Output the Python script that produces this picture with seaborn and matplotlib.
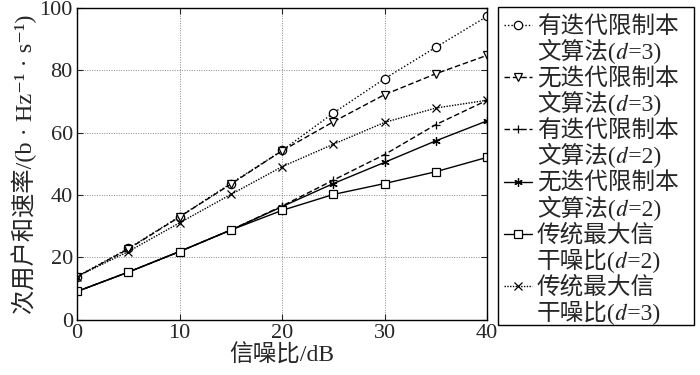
import numpy as np
import pandas as pd
import seaborn as sns
import matplotlib.pyplot as plt
from matplotlib.lines import Line2D
from matplotlib.patches import Rectangle

snr = [0, 5, 10, 15, 20, 25, 30, 35, 40]

iter_d3 = [13.9, 22.9, 33.1, 43.7, 54.3, 66.3, 77.3, 87.4, 97.3]
noiter_d3 = [13.8, 22.7, 33.0, 43.5, 54.2, 63.5, 72.2, 78.9, 84.8]
iter_d2 = [9.1, 15.3, 21.9, 28.8, 36.5, 44.8, 53.0, 62.6, 70.4]
noiter_d2 = [9.1, 15.3, 21.9, 28.8, 36.3, 43.7, 50.5, 57.4, 63.8]
maxsinr_d2 = [9.1, 15.3, 21.9, 28.8, 35.1, 40.2, 43.7, 47.5, 52.1]
maxsinr_d3 = [13.9, 21.9, 31.1, 40.2, 49.1, 56.3, 63.3, 67.9, 70.4]

# italic d via the math-italic code point (falls back to STIXGeneral)
labels = [('有迭代限制本', '文算法(𝑑=3)'), ('无迭代限制本', '文算法(𝑑=3)'),
          ('有迭代限制本', '文算法(𝑑=2)'), ('无迭代限制本', '文算法(𝑑=2)'),
          ('传统最大信', '干噪比(𝑑=2)'), ('传统最大信', '干噪比(𝑑=3)')]
series = [iter_d3, noiter_d3, iter_d2, noiter_d2, maxsinr_d2, maxsinr_d3]
markers = ['o', 'v', '+', (6, 2, 0), 's', 'x']
styles = [(0, (1, 1.5)), (0, (4, 2)), (0, (4, 2)), '-', '-', (0, (1, 1))]

sns.set_style('ticks')
plt.rcParams['font.family'] = ['Liberation Serif', 'Noto Sans CJK SC', 'STIXGeneral', 'DejaVu Sans']

W, H = 700, 375
fig = plt.figure(figsize=(7, 3.75), dpi=100)
ax = fig.add_axes([0.11, 0.147, 0.586, 0.832])

for vals, m, ls in zip(series, markers, styles):
    df = pd.DataFrame({'snr': snr, 'rate': vals})
    sns.lineplot(data=df, x='snr', y='rate', ax=ax, color='black', linewidth=1,
                 linestyle=ls, marker=m, markersize=6, markerfacecolor='white',
                 markeredgecolor='black', markeredgewidth=0.9)

ax.set_xlim(0, 40)
ax.set_ylim(0, 100)
ax.set_xticks([0, 10, 20, 30, 40])
ax.set_yticks([0, 20, 40, 60, 80, 100])
ax.grid(True, linestyle=(0, (1, 1.5)), color='#888888', linewidth=0.7)
ax.tick_params(direction='in', top=True, right=True, labelsize=16, length=4, pad=3)
for s in ax.spines.values():
    s.set_linewidth(1)
    s.set_color('black')
ax.set_xlabel('信噪比/dB', fontsize=17, labelpad=1)
ax.set_ylabel('次用户和速率/(b · Hz⁻¹ · s⁻¹)', fontsize=17.5, labelpad=2)

# legend box drawn by hand so that two-line labels keep an even row pitch
fx = lambda px: px / W
fy = lambda py: 1 - py / H
fig.add_artist(Rectangle((fx(498), fy(325)), fx(694) - fx(498), fy(7) - fy(325),
                         transform=fig.transFigure, fill=False,
                         edgecolor='black', linewidth=1))
pitch = 26.1
for i, (lab, m, ls) in enumerate(zip(labels, markers, styles)):
    y1 = 25 + 2 * i * pitch
    fig.add_artist(Line2D([fx(504), fx(518), fx(532)], [fy(y1)] * 3,
                          transform=fig.transFigure, color='black', linewidth=1,
                          linestyle=ls, marker=m, markevery=[1], markersize=6,
                          markerfacecolor='white', markeredgecolor='black',
                          markeredgewidth=0.9))
    fig.text(fx(537), fy(y1 + 8), lab[0], fontsize=17, va='baseline', ha='left')
    fig.text(fx(537), fy(y1 + pitch + 8), lab[1], fontsize=17, va='baseline', ha='left')

fig.savefig('out.png', dpi=100)
